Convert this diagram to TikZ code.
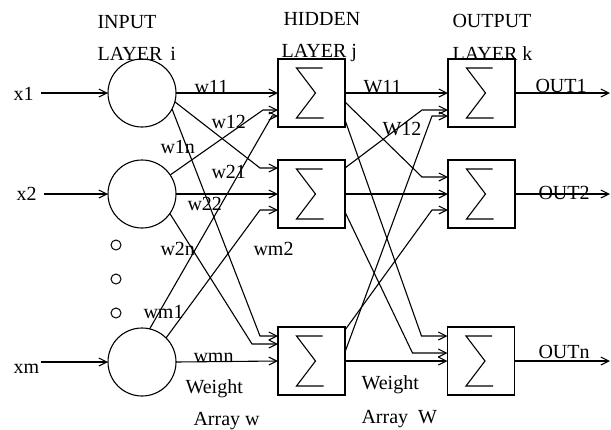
\documentclass[tikz,border=0pt]{standalone}
\usepackage{fontspec}
\setmainfont{Liberation Serif}
\usetikzlibrary{arrows.meta,calc}

\begin{document}
\begin{tikzpicture}[x=1pt,y=-1pt,
  line width=1.1pt,
  arr/.style={-{Straight Barb[length=8pt,width=8pt,line width=1.1pt]}},
  neuron/.style={circle,draw,minimum size=68pt,inner sep=0,outer sep=0},
  sumbox/.style={rectangle,draw,minimum width=67pt,minimum height=68pt,inner sep=0,outer sep=0},
  dotnode/.style={circle,draw,minimum size=10pt,inner sep=0,line width=1pt},
  lbl/.style={inner sep=0,font=\fontsize{20}{24}\selectfont,anchor=base west},
  sigma/.pic={\draw[line width=1.1pt] (11,-25) -- (-15,-25) -- (4,0) -- (-15,25) -- (12,25);}
]
\useasboundingbox (0,0) rectangle (611,429);

% input neurons
\node[neuron] (c1) at (142,93) {};
\node[neuron] (c2) at (142,194) {};
\node[neuron] (cm) at (142,362) {};
\node[dotnode] (d1) at (116,245) {};
\node[dotnode] (d2) at (116,279) {};
\node[dotnode] (d3) at (116,313) {};

% summing units
\node[sumbox] (h1) at (311.5,93) {};
\node[sumbox] (h2) at (311.5,194) {};
\node[sumbox] (h3) at (311.5,361) {};
\node[sumbox] (o1) at (481.5,93) {};
\node[sumbox] (o2) at (481.5,194) {};
\node[sumbox] (o3) at (481,361) {};
\foreach \b in {h1,h2,h3,o1,o2,o3} \pic at (\b) {sigma};

% layer headings
\node[lbl] (tin1) at (97,28) {INPUT};
\node[lbl] (tin2) at (97,60) {LAYER\hspace{8pt}i};
\node[lbl] (thd1) at (283,25) {HIDDEN};
\node[lbl] (thd2) at (281,57) {LAYER j};
\node[lbl] (tou1) at (452,27) {OUTPUT};
\node[lbl] (tou2) at (452,60) {LAYER k};

% inputs
\node[lbl] (x1) at (13,100) {x1};
\node[lbl] (x2) at (16,200) {x2};
\node[lbl] (xm) at (13,373) {xm};
\draw[arr] ($(c1.west -| x1.east)+(7,0)$) -- (c1.west);
\draw[arr] ($(c2.west -| x2.east)+(7,0)$) -- (c2.west);
\draw[arr] ($(cm.west -| xm.east)+(1,0)$) -- (cm.west);

% weights w
\draw[arr] (c1.east) -- (h1.west);
\draw[arr] (c1.-15) -- ($(h2.west)+(-18,-26)$) -- ($(h2.west)+(0,-26)$);
\draw[arr] (c1.-28) -- ($(h3.west)+(-18,-25)$) -- ($(h3.west)+(0,-25)$);
\draw[arr] (c2.34) -- ($(h1.west)+(-15,17)$) -- ($(h1.west)+(0,17)$);
\draw[arr] (c2.east) -- (h2.west);
\draw[arr] (c2.-35) -- ($(h3.west)+(-26,-17)$) -- ($(h3.west)+(0,-17)$);
\draw[arr] (cm.77) -- ($(h1.west)+(-6,23)$) -- ($(h1.west)+(0,23)$);
\draw[arr] (cm.45) -- ($(h2.west)+(-18,16)$) -- ($(h2.west)+(0,16)$);
\draw[arr] (cm.east) -- (h3.west);

% weights W
\draw[arr] (h1.east) -- (o1.west);
\draw[arr] ($(h1.east)+(0,9)$) -- ($(o2.west)+(-26,-17)$) -- ($(o2.west)+(0,-17)$);
\draw[arr] ($(h1.east)+(0,27)$) -- ($(o3.west)+(-26,-25)$) -- ($(o3.west)+(0,-25)$);
\draw[arr] ($(h2.east)+(0,-26)$) -- ($(o1.west)+(-26,17)$) -- ($(o1.west)+(0,17)$);
\draw[arr] (h2.east) -- (o2.west);
\draw[arr] ($(h2.east)+(0,18)$) -- ($(o3.west)+(-35,-8)$) -- ($(o3.west)+(0,-8)$);
\draw[arr] ($(h3.east)+(0,-9)$) -- ($(o1.west)+(-16,23)$) -- ($(o1.west)+(0,23)$);
\draw[arr] ($(h3.east)+(0,-31)$) -- ($(o2.west)+(-16,16)$) -- ($(o2.west)+(0,16)$);
\draw[arr] (h3.east) -- (o3.west);

% outputs
\coordinate (rim) at (610,0);
\draw[arr] (o1.east) -- (o1.east -| rim);
\draw[arr] (o2.east) -- (o2.east -| rim);
\draw[arr] (o3.east) -- (o3.east -| rim);

% weight labels
\node[lbl] (lw11) at (194,93) {w11};
\node[lbl] (lw12) at (211,128) {w12};
\node[lbl] (lw1n) at (160,153) {w1n};
\node[lbl] (lw21) at (211,178) {w21};
\node[lbl] (lw22) at (187,210) {w22};
\node[lbl] (lw2n) at (160,255) {w2n};
\node[lbl] (lwm2) at (253,255) {wm2};
\node[lbl] (lwm1) at (143,318) {wm1};
\node[lbl] (lwmn) at (193,362) {wmn};
\node[lbl] (lwt1) at (185,393) {Weight};
\node[lbl] (lar1) at (193,425) {Array w};
\node[lbl] (lW11) at (363,93) {W11};
\node[lbl] (lW12) at (382,135) {W12};
\node[lbl] (lwt2) at (361,389) {Weight};
\node[lbl] (lar2) at (361,423) {Array\hspace{10pt}W};
\node[lbl] (lo1) at (535,92) {OUT1};
\node[lbl] (lo2) at (538,199) {OUT2};
\node[lbl] (lon) at (538,358) {OUTn};
\end{tikzpicture}
\end{document}
